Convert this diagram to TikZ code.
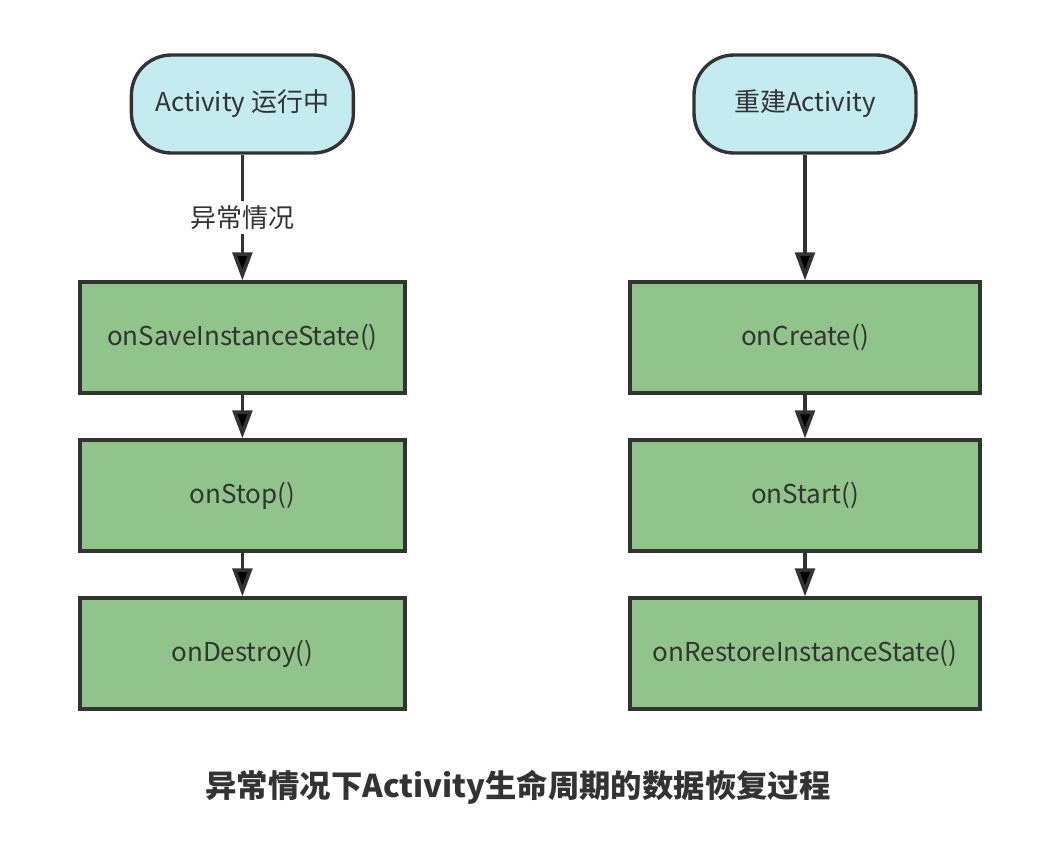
\documentclass[tikz,border=0pt]{standalone}
\usepackage{fontspec}
\setmainfont{Noto Sans CJK SC}
\usepackage{tikz}
\usetikzlibrary{arrows.meta,positioning}

\definecolor{runfill}{HTML}{C3EBF0}
\definecolor{stepfill}{HTML}{90C48A}
\definecolor{edgegray}{HTML}{333333}

\begin{document}
\begin{tikzpicture}[node distance=3.95cm,on grid,
    every node/.style={font=\fontsize{18.5}{22}\selectfont,text=edgegray},
    startbox/.style={draw=edgegray,line width=2.4pt,fill=runfill,rounded corners=1cm,
      minimum width=5.55cm,minimum height=2.45cm},
    procbox/.style={draw=edgegray,line width=2.4pt,fill=stepfill,
      minimum height=2.775cm},
    flow/.style={-{Triangle[length=20pt,width=14pt]},draw=edgegray,line width=2.6pt}]
  \useasboundingbox (0,0) rectangle (26.6,-21.7);
  % left column
  \node[startbox] (run) at (6.06,-2.6) {Activity 运行中};
  \node[procbox,minimum width=8.125cm] (save) [below = 5.84cm of run] {onSaveInstanceState()};
  \node[procbox,minimum width=8.125cm] (stop) [below = of save] {onStop()};
  \node[procbox,minimum width=8.125cm] (destroy) [below = of stop] {onDestroy()};
  % right column
  \node[startbox] (rebuild) at (20.125,-2.6) {重建Activity};
  \node[procbox,minimum width=8.75cm] (create) [below = 5.84cm of rebuild] {onCreate()};
  \node[procbox,minimum width=8.75cm] (start) [below = of create] {onStart()};
  \node[procbox,minimum width=8.75cm] (restore) [below = of start] {onRestoreInstanceState()};
  \path[flow]
  (run) edge node [pos=0.5,fill=white,inner sep=3pt] {异常情况} (save)
  (save) edge (stop)
  (stop) edge (destroy)
  (rebuild) edge (create)
  (create) edge (start)
  (start) edge (restore)
  ;
  \node[font=\fontsize{22.3}{26}\selectfont\bfseries] (title) at (12.95,-19.675)
    {异常情况下Activity生命周期的数据恢复过程};
\end{tikzpicture}
\end{document}
